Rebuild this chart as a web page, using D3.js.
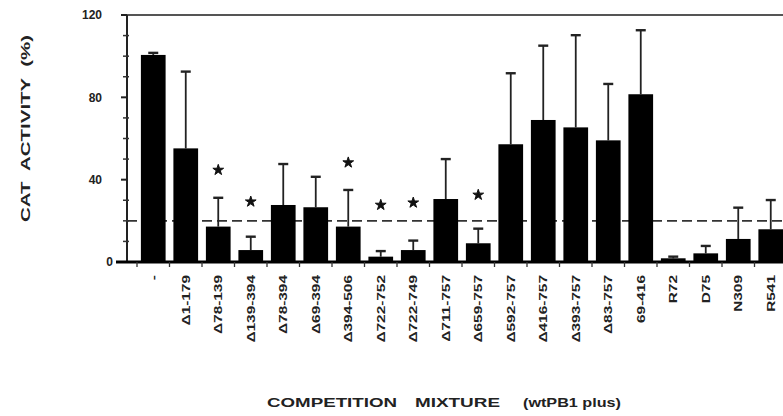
<!DOCTYPE html>
<html>
<head>
<meta charset="utf-8">
<script src="https://cdn.jsdelivr.net/npm/d3@7"></script>
<style>
  html, body { margin: 0; padding: 0; background: #fff; }
  svg { display: block; font-family: "Liberation Sans", Arial, sans-serif; }
</style>
</head>
<body>
<div id="chart"></div>
<script>
// competidores (eje x)
const categories = ["-", "Δ1-179", "Δ78-139", "Δ139-394", "Δ78-394", "Δ69-394", "Δ394-506",
    "Δ722-752", "Δ722-749", "Δ711-757", "Δ659-757", "Δ592-757", "Δ416-757", "Δ393-757",
    "Δ83-757", "69-416", "R72", "D75", "N309", "R541"];
// actividad CAT (%)
const activity = [100.6, 55.2, 17.2, 5.8, 27.7, 26.6, 17.2, 2.6, 5.8, 30.6, 9.1, 57.2, 69, 65.4,
    59.1, 81.5, 1.8, 4.2, 11.2, 15.9];
// barra de error (solo hacia arriba)
const errors = [1, 37.3, 14, 6.5, 19.9, 14.8, 17.8, 2.7, 4.6, 19.4, 7.1, 34.5, 36.1, 44.8,
    27.4, 31.1, 0.8, 3.6, 15.2, 14.2];
// asteriscos (posición en unidades del eje y, null = sin asterisco)
const stars = [null, null, 44.7, 29.3, null, null, 48.3, 27.7, 28.8, null, 32.6, null, null, null,
    null, null, null, null, null, null];
const yTicks = [0, 40, 80, 120];
const cutoff = 20;

const width = 783, height = 416;
const svg = d3.select('#chart').append('svg')
    .attr('width', width).attr('height', height);

const axisX = 127, plotTop = 15, plotBottom = 262;
const step = 32.5;

const y = d3.scaleLinear().domain([0, 120]).range([plotBottom, plotTop]);
const x = d3.scaleBand()
    .domain(categories)
    .range([137, 137 + step * categories.length])
    .paddingInner(0.24)
    .paddingOuter(0.12);
const gap = (x.step() - x.bandwidth()) / 2;

// marco superior
svg.append('line')
    .attr('x1', axisX).attr('x2', width)
    .attr('y1', plotTop).attr('y2', plotTop)
    .attr('stroke', '#555').attr('stroke-width', 2);

// línea discontinua en 20%
svg.append('line')
    .attr('x1', axisX).attr('x2', width)
    .attr('y1', y(cutoff)).attr('y2', y(cutoff))
    .attr('stroke', '#333').attr('stroke-width', 1.8)
    .attr('stroke-dasharray', '10,5');

// barras de error
const eg = svg.append('g').attr('stroke', '#222');
eg.selectAll('line.err')
    .data(categories)
    .join('line')
    .attr('class', 'err')
    .attr('x1', d => x(d) + x.bandwidth() / 2)
    .attr('x2', d => x(d) + x.bandwidth() / 2)
    .attr('y1', (d, i) => y(activity[i]))
    .attr('y2', (d, i) => y(activity[i] + errors[i]))
    .attr('stroke-width', 1.8);
eg.selectAll('line.cap')
    .data(categories)
    .join('line')
    .attr('class', 'cap')
    .attr('x1', d => x(d) + x.bandwidth() / 2 - 5)
    .attr('x2', d => x(d) + x.bandwidth() / 2 + 5)
    .attr('y1', (d, i) => y(activity[i] + errors[i]))
    .attr('y2', (d, i) => y(activity[i] + errors[i]))
    .attr('stroke-width', 2.4);

// barras
svg.append('g').selectAll('rect')
    .data(categories)
    .join('rect')
    .attr('x', d => x(d))
    .attr('width', x.bandwidth())
    .attr('y', (d, i) => y(activity[i]))
    .attr('height', (d, i) => y(0) - y(activity[i]))
    .attr('fill', '#000');

// asteriscos
const star = d3.symbol().type(d3.symbolStar).size(36);
svg.append('g').selectAll('path')
    .data(categories.map((c, i) => ({ c, v: stars[i] })).filter(d => d.v != null))
    .join('path')
    .attr('d', star)
    .attr('transform', d => `translate(${x(d.c) + x.bandwidth() / 2},${y(d.v)})`)
    .attr('fill', '#111')
    .attr('stroke', '#111')
    .attr('stroke-width', 1)
    .attr('stroke-linejoin', 'round');

// eje y
svg.append('line')
    .attr('x1', axisX).attr('x2', axisX)
    .attr('y1', plotTop).attr('y2', plotBottom)
    .attr('stroke', '#222').attr('stroke-width', 2);

const minor = d3.range(10, 120, 10).filter(v => !yTicks.includes(v));
svg.append('g').selectAll('line')
    .data(minor)
    .join('line')
    .attr('x1', axisX - 4).attr('x2', axisX + 2)
    .attr('y1', d => y(d)).attr('y2', d => y(d))
    .attr('stroke', '#333').attr('stroke-width', 1.5);
svg.append('g').selectAll('line')
    .data(yTicks)
    .join('line')
    .attr('x1', axisX - 6).attr('x2', axisX)
    .attr('y1', d => y(d)).attr('y2', d => y(d))
    .attr('stroke', '#222').attr('stroke-width', 2);

svg.append('g').selectAll('text')
    .data(yTicks)
    .join('text')
    .attr('x', d => d === 0 ? 113 : 102)
    .attr('y', d => y(d))
    .attr('dy', '0.36em')
    .attr('text-anchor', 'end')
    .attr('font-size', 12)
    .attr('font-weight', 'bold')
    .attr('fill', '#222')
    .text(d => d);

// eje x
svg.append('line')
    .attr('x1', 116).attr('x2', width)
    .attr('y1', plotBottom).attr('y2', plotBottom)
    .attr('stroke', '#000').attr('stroke-width', 3);

svg.append('g').selectAll('line')
    .data(categories)
    .join('line')
    .attr('x1', d => x(d) - gap).attr('x2', d => x(d) - gap)
    .attr('y1', plotBottom).attr('y2', plotBottom + 5)
    .attr('stroke', '#333').attr('stroke-width', 1.3);

svg.append('g').selectAll('text')
    .data(categories)
    .join('text')
    .attr('transform', d => `translate(${x(d) + x.bandwidth() / 2},275) rotate(-90) scale(1.4,1)`)
    .attr('dy', '0.36em')
    .attr('text-anchor', 'end')
    .attr('font-size', 11)
    .attr('font-weight', 'bold')
    .attr('fill', '#222')
    .text(d => d);

// títulos
svg.append('text')
    .attr('transform', 'translate(30,222) rotate(-90)')
    .attr('font-size', 13)
    .attr('font-weight', 'bold')
    .attr('fill', '#222')
    .attr('textLength', 187)
    .attr('lengthAdjust', 'spacingAndGlyphs')
    .style('white-space', 'pre')
    .text('CAT  ACTIVITY  (%)');

const xTitle = [
    { t: 'COMPETITION', x: 267, w: 130 },
    { t: 'MIXTURE', x: 415, w: 85 },
    { t: '(wtPB1 plus)', x: 523, w: 98 }
];
svg.append('g').selectAll('text')
    .data(xTitle)
    .join('text')
    .attr('x', d => d.x)
    .attr('y', 407)
    .attr('font-size', 13)
    .attr('font-weight', 'bold')
    .attr('fill', '#222')
    .attr('textLength', d => d.w)
    .attr('lengthAdjust', 'spacingAndGlyphs')
    .style('white-space', 'pre')
    .text(d => d.t);
</script>
</body>
</html>
